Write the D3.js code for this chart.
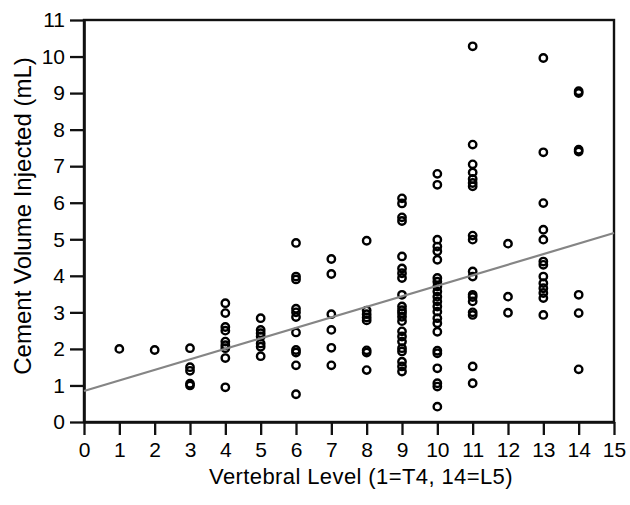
<!DOCTYPE html>
<html>
<head>
<meta charset="utf-8">
<script src="https://cdn.jsdelivr.net/npm/d3@7"></script>
<style>
  body { margin: 0; background: #fff; }
  svg { display: block; font-family: "Liberation Sans", Arial, sans-serif; }
</style>
</head>
<body>
<svg id="chart" width="630" height="505"></svg>
<script>
// vertebral level (1=T4 ... 14=L5) and injected volumes
const levels = [1, 2, 3, 4, 5, 6, 7, 8, 9, 10, 11, 12, 13, 14];
const volumes = [
    [2.0],
    [1.97],
    [2.02, 1.5, 1.4, 1.05, 1.0],
    [3.25, 2.98, 2.6, 2.5, 2.2, 2.1, 2.02, 1.75, 0.95],
    [2.84, 2.52, 2.43, 2.34, 2.15, 2.06, 1.8],
    [4.9, 3.98, 3.9, 3.1, 3.0, 2.87, 2.45, 1.97, 1.9, 1.55, 0.76],
    [4.46, 4.05, 2.95, 2.52, 2.03, 1.55],
    [4.96, 3.05, 2.95, 2.86, 2.78, 1.96, 1.9, 1.42],
    [6.12, 5.98, 5.6, 5.5, 4.53, 4.2, 4.07, 3.94, 3.48, 3.16, 3.06, 2.98, 2.88, 2.76, 2.48, 2.34, 2.2, 2.02, 1.93, 1.65, 1.52, 1.38],
    [6.79, 6.49, 4.99, 4.8, 4.67, 4.44, 3.94, 3.84, 3.71, 3.57, 3.43, 3.3, 3.16, 3.02, 2.84, 2.7, 2.47, 1.95, 1.88, 1.47, 1.06, 0.97, 0.42],
    [10.28, 7.59, 7.05, 6.83, 6.65, 6.54, 6.45, 5.1, 4.99, 4.12, 3.98, 3.48, 3.42, 3.3, 3.0, 2.93, 1.52, 1.06],
    [4.88, 3.43, 2.99],
    [9.96, 7.38, 5.99, 5.26, 4.99, 4.39, 4.3, 3.98, 3.8, 3.66, 3.53, 3.39, 2.93],
    [9.05, 9.0, 7.45, 7.4, 3.48, 2.98, 1.44]
];

// regression line endpoints
const fitX = [0, 15];
const fitY = [0.85, 5.17];

const xTicks = d3.range(0, 16);
const yTicks = d3.range(0, 12);

const margin = { top: 20, right: 16, bottom: 83, left: 84 };
const width = 630 - margin.left - margin.right,
      height = 505 - margin.top - margin.bottom;

const svg = d3.select("#chart")
    .append("g")
    .attr("transform", "translate(" + margin.left + "," + margin.top + ")");

const x = d3.scaleLinear().domain([0, 15]).range([0, width]);
const y = d3.scaleLinear().domain([0, 11]).range([height, 0]);

// frame
svg.append("rect")
    .attr("x", 0).attr("y", 0)
    .attr("width", width).attr("height", height)
    .attr("fill", "none")
    .attr("stroke", "#111")
    .attr("stroke-width", 2.4);

const axisX = d3.axisBottom(x).tickValues(xTicks).tickSize(13).tickSizeOuter(0).tickPadding(7);
const axisY = d3.axisLeft(y).tickValues(yTicks).tickSize(14).tickSizeOuter(0).tickPadding(5);

const gx = svg.append("g")
    .attr("transform", "translate(0," + height + ")")
    .call(axisX);
const gy = svg.append("g").call(axisY);

[gx, gy].forEach(g => {
    g.select(".domain").attr("stroke", "#111").attr("stroke-width", 2.6);
    g.selectAll(".tick line").attr("stroke", "#111").attr("stroke-width", 2.3);
    g.selectAll(".tick text")
        .attr("fill", "#000")
        .style("font-size", "21px");
});

// points
const points = [];
levels.forEach((lv, i) => {
    volumes[i].forEach(v => points.push({ level: lv, vol: v }));
});

svg.append("g")
    .selectAll("circle")
    .data(points).enter()
    .append("circle")
    .attr("cx", d => x(d.level))
    .attr("cy", d => y(d.vol))
    .attr("r", 3.7)
    .attr("fill", "none")
    .attr("stroke", "#000")
    .attr("stroke-width", 2.4);

// fitted line
svg.append("line")
    .attr("x1", x(fitX[0]))
    .attr("y1", y(fitY[0]))
    .attr("x2", x(fitX[1]))
    .attr("y2", y(fitY[1]))
    .attr("stroke", "#858585")
    .attr("stroke-width", 2.2);

// axis titles
svg.append("text")
    .attr("x", 277)
    .attr("y", height + 62)
    .attr("text-anchor", "middle")
    .attr("fill", "#000")
    .style("font-size", "22px")
    .style("letter-spacing", "0.4px")
    .text("Vertebral Level (1=T4, 14=L5)");

svg.append("text")
    .attr("transform", "rotate(-90)")
    .attr("x", -196)
    .attr("y", -53)
    .attr("text-anchor", "middle")
    .attr("fill", "#000")
    .style("font-size", "24px")
    .text("Cement Volume Injected (mL)");
</script>
</body>
</html>
